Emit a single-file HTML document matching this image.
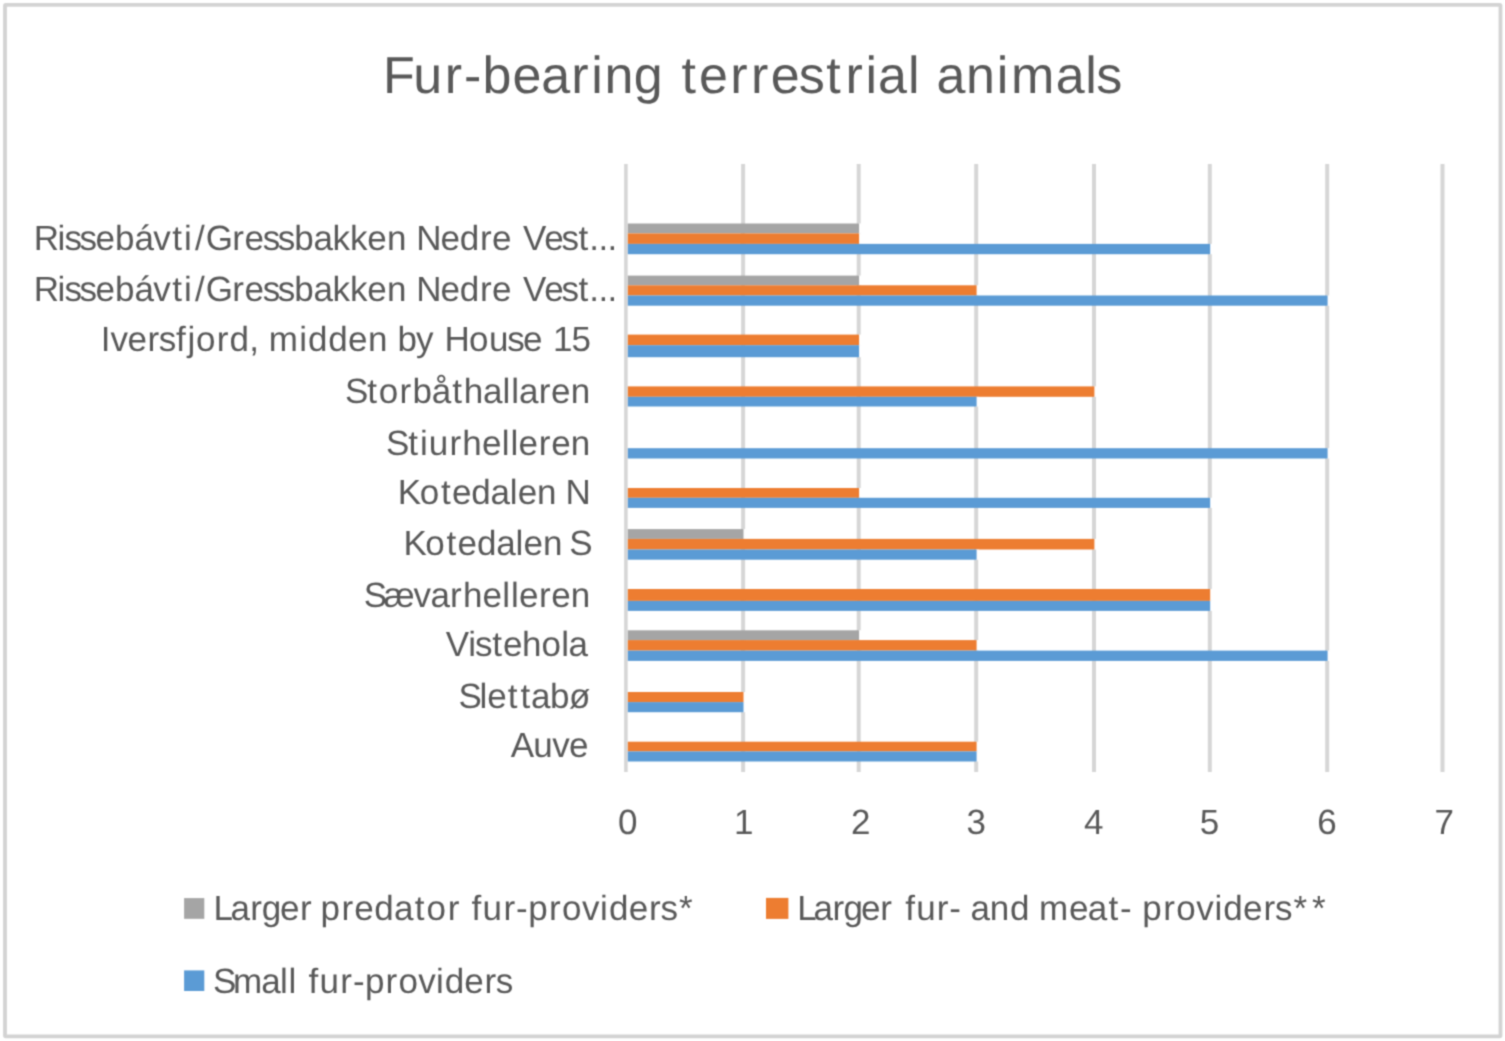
<!DOCTYPE html>
<html lang="en"><head><meta charset="utf-8">
<title>Fur-bearing terrestrial animals</title>
<style>
html,body{margin:0;padding:0;background:#fff;}
body{width:1505px;height:1041px;overflow:hidden;}
svg{display:block;}
text{font-family:"Liberation Sans",sans-serif;fill:#595959;white-space:pre;font-variant-ligatures:none;font-kerning:none;text-rendering:geometricPrecision;}
</style></head><body>
<svg width="1505" height="1041" viewBox="0 0 1505 1041">
<defs><filter id="soft" filterUnits="userSpaceOnUse" x="0" y="0" width="1505" height="1041" color-interpolation-filters="sRGB"><feConvolveMatrix order="3" divisor="1" edgeMode="duplicate" preserveAlpha="false" kernelMatrix="0.0400 0.1200 0.0400 0.1200 0.3600 0.1200 0.0400 0.1200 0.0400"/></filter></defs>
<rect x="0" y="0" width="1505" height="1041" fill="#ffffff"/>
<g filter="url(#soft)">
<rect id="frame" x="5" y="4.8" width="1495.5" height="1031.5" fill="none" stroke="#d3d3d3" stroke-width="3.8" rx="0.8" ry="0.8"/>
<g id="grid" fill="#d6d6d6">
<rect x="624.10" y="164.00" width="3.60" height="608.00"/>
<rect x="741.10" y="164.00" width="4.00" height="608.00"/>
<rect x="856.70" y="164.00" width="4.00" height="608.00"/>
<rect x="974.20" y="164.00" width="4.00" height="608.00"/>
<rect x="1092.00" y="164.00" width="4.00" height="608.00"/>
<rect x="1207.80" y="164.00" width="4.00" height="608.00"/>
<rect x="1325.20" y="164.00" width="4.00" height="608.00"/>
<rect x="1440.50" y="164.00" width="4.00" height="608.00"/>
</g>
<g id="bars">
<rect x="858.10" y="223.50" width="3.20" height="9.90" fill="#ffffff"/>
<rect x="627.80" y="223.50" width="231.30" height="9.90" fill="#a5a5a5"/>
<rect x="858.10" y="233.40" width="3.20" height="10.50" fill="#ffffff"/>
<rect x="627.80" y="233.40" width="231.30" height="10.50" fill="#ed7d31"/>
<rect x="1209.20" y="243.90" width="3.20" height="10.30" fill="#ffffff"/>
<rect x="627.80" y="243.90" width="582.40" height="10.30" fill="#5b9bd5"/>
<rect x="858.10" y="275.60" width="3.20" height="9.70" fill="#ffffff"/>
<rect x="627.80" y="275.60" width="231.30" height="9.70" fill="#a5a5a5"/>
<rect x="975.60" y="285.30" width="3.20" height="10.20" fill="#ffffff"/>
<rect x="627.80" y="285.30" width="348.80" height="10.20" fill="#ed7d31"/>
<rect x="1326.60" y="295.50" width="3.20" height="10.20" fill="#ffffff"/>
<rect x="627.80" y="295.50" width="699.80" height="10.20" fill="#5b9bd5"/>
<rect x="858.10" y="334.60" width="3.20" height="10.60" fill="#ffffff"/>
<rect x="627.80" y="334.60" width="231.30" height="10.60" fill="#ed7d31"/>
<rect x="858.10" y="345.20" width="3.20" height="12.00" fill="#ffffff"/>
<rect x="627.80" y="345.20" width="231.30" height="12.00" fill="#5b9bd5"/>
<rect x="1093.40" y="386.40" width="3.20" height="10.40" fill="#ffffff"/>
<rect x="627.80" y="386.40" width="466.60" height="10.40" fill="#ed7d31"/>
<rect x="975.60" y="396.80" width="3.20" height="9.70" fill="#ffffff"/>
<rect x="627.80" y="396.80" width="348.80" height="9.70" fill="#5b9bd5"/>
<rect x="1326.60" y="448.20" width="3.20" height="10.30" fill="#ffffff"/>
<rect x="627.80" y="448.20" width="699.80" height="10.30" fill="#5b9bd5"/>
<rect x="858.10" y="488.00" width="3.20" height="9.80" fill="#ffffff"/>
<rect x="627.80" y="488.00" width="231.30" height="9.80" fill="#ed7d31"/>
<rect x="1209.20" y="497.80" width="3.20" height="10.10" fill="#ffffff"/>
<rect x="627.80" y="497.80" width="582.40" height="10.10" fill="#5b9bd5"/>
<rect x="742.50" y="529.10" width="3.20" height="9.80" fill="#ffffff"/>
<rect x="627.80" y="529.10" width="115.70" height="9.80" fill="#a5a5a5"/>
<rect x="1093.40" y="538.90" width="3.20" height="10.60" fill="#ffffff"/>
<rect x="627.80" y="538.90" width="466.60" height="10.60" fill="#ed7d31"/>
<rect x="975.60" y="549.50" width="3.20" height="10.20" fill="#ffffff"/>
<rect x="627.80" y="549.50" width="348.80" height="10.20" fill="#5b9bd5"/>
<rect x="1209.20" y="589.00" width="3.20" height="11.90" fill="#ffffff"/>
<rect x="627.80" y="589.00" width="582.40" height="11.90" fill="#ed7d31"/>
<rect x="1209.20" y="600.90" width="3.20" height="10.00" fill="#ffffff"/>
<rect x="627.80" y="600.90" width="582.40" height="10.00" fill="#5b9bd5"/>
<rect x="858.10" y="630.30" width="3.20" height="9.80" fill="#ffffff"/>
<rect x="627.80" y="630.30" width="231.30" height="9.80" fill="#a5a5a5"/>
<rect x="975.60" y="640.10" width="3.20" height="10.50" fill="#ffffff"/>
<rect x="627.80" y="640.10" width="348.80" height="10.50" fill="#ed7d31"/>
<rect x="1326.60" y="650.60" width="3.20" height="10.30" fill="#ffffff"/>
<rect x="627.80" y="650.60" width="699.80" height="10.30" fill="#5b9bd5"/>
<rect x="742.50" y="692.00" width="3.20" height="10.10" fill="#ffffff"/>
<rect x="627.80" y="692.00" width="115.70" height="10.10" fill="#ed7d31"/>
<rect x="742.50" y="702.10" width="3.20" height="10.10" fill="#ffffff"/>
<rect x="627.80" y="702.10" width="115.70" height="10.10" fill="#5b9bd5"/>
<rect x="975.60" y="741.70" width="3.20" height="9.70" fill="#ffffff"/>
<rect x="627.80" y="741.70" width="348.80" height="9.70" fill="#ed7d31"/>
<rect x="975.60" y="751.40" width="3.20" height="10.10" fill="#ffffff"/>
<rect x="627.80" y="751.40" width="348.80" height="10.10" fill="#5b9bd5"/>
</g>
<g id="labels">
<text id="title" class="t" y="93.20" font-size="52"><tspan id="title_0" x="383.0 413.3 444.7 463.9 482.5 512.5 541.2 571.3 591.2 604.6 633.8">Fur-bearing</tspan> <tspan id="title_1" x="681.4 699.1 730.2 751.1 770.7 798.8 826.3 845.4 865.6 878.1 908.0">terrestrial</tspan> <tspan id="title_2" x="936.4 965.9 996.7 1011.1 1055.8 1085.3 1096.3">animals</tspan></text>
<text id="c0" y="249.75" font-size="35"><tspan id="c0_0" x="33.8 57.4 64.4 79.4 95.5 115.1 134.4 153.3 172.3 184.1 194.9 205.7 232.3 244.6 262.7 277.7 294.3 313.5 332.5 349.9 367.2 386.9">Rissebávti/Gressbakken</tspan> <tspan id="c0_1" x="416.3 440.6 459.8 480.1 492.0">Nedre</tspan> <tspan id="c0_2" x="523.0 544.3 561.5 578.6 589.2 598.4 607.6">Vest...</tspan></text>
<text id="c1" y="301.15" font-size="35"><tspan id="c1_0" x="33.8 57.4 64.4 79.4 95.5 115.1 134.4 153.3 172.3 184.1 194.9 205.7 232.3 244.6 262.7 277.7 294.3 313.5 332.5 349.9 367.2 386.9">Rissebávti/Gressbakken</tspan> <tspan id="c1_1" x="416.3 440.6 459.8 480.1 492.0">Nedre</tspan> <tspan id="c1_2" x="523.0 544.3 561.5 578.6 589.2 598.4 607.6">Vest...</tspan></text>
<text id="c2" y="351.05" font-size="35"><tspan id="c2_0" x="100.8 110.4 127.6 147.6 158.8 176.0 187.4 196.1 216.8 229.6 249.2">Iversfjord,</tspan> <tspan id="c2_1" x="268.8 299.3 308.0 328.3 348.1 367.9">midden</tspan> <tspan id="c2_2" x="397.6 416.1">by</tspan> <tspan id="c2_3" x="444.5 469.1 488.9 507.2 523.0">House</tspan> <tspan id="c2_4" x="552.9 571.6">15</tspan></text>
<text id="c3" y="402.55" font-size="35"><tspan id="c3_0" x="345.1 367.2 378.8 399.5 412.4 431.7 452.2 463.8 483.0 502.5 511.3 519.0 538.8 551.1 570.7">Storbåthallaren</tspan></text>
<text id="c4" y="454.55" font-size="35"><tspan id="c4_0" x="386.1 408.2 420.0 428.7 449.4 462.2 481.9 501.7 510.5 518.6 538.8 551.2 570.8">Stiurhelleren</tspan></text>
<text id="c5" y="503.95" font-size="35"><tspan id="c5_0" x="397.8 419.7 440.9 451.9 471.3 490.4 509.7 517.7 537.1">Kotedalen</tspan> <tspan id="c5_1" x="565.6">N</tspan></text>
<text id="c6" y="555.45" font-size="35"><tspan id="c6_0" x="403.4 425.3 446.6 457.6 477.1 496.3 515.6 523.6 543.1">Kotedalen</tspan> <tspan id="c6_1" x="569.2">S</tspan></text>
<text id="c7" y="606.95" font-size="35"><tspan id="c7_0" x="363.7 383.4 413.6 430.4 450.1 462.9 482.4 502.2 510.9 519.0 539.0 551.3 570.8">Sævarhelleren</tspan></text>
<text id="c8" y="656.45" font-size="35"><tspan id="c8_0" x="445.7 468.3 474.9 492.3 502.9 521.9 541.4 561.3 568.6">Vistehola</tspan></text>
<text id="c9" y="707.95" font-size="35"><tspan id="c9_0" x="458.6 479.4 487.2 507.8 520.5 531.0 550.0 568.9">Slettabø</tspan></text>
<text id="c10" y="757.35" font-size="35"><tspan id="c10_0" x="510.7 533.2 552.3 569.0">Auve</tspan></text>
<text id="n0" y="834.20" font-size="35"><tspan id="n0_0" x="618.1">0</tspan></text>
<text id="n1" y="834.20" font-size="35"><tspan id="n1_0" x="733.9">1</tspan></text>
<text id="n2" y="834.20" font-size="35"><tspan id="n2_0" x="851.0">2</tspan></text>
<text id="n3" y="834.20" font-size="35"><tspan id="n3_0" x="966.4">3</tspan></text>
<text id="n4" y="834.20" font-size="35"><tspan id="n4_0" x="1084.1">4</tspan></text>
<text id="n5" y="834.20" font-size="35"><tspan id="n5_0" x="1199.7">5</tspan></text>
<text id="n6" y="834.20" font-size="35"><tspan id="n6_0" x="1317.2">6</tspan></text>
<text id="n7" y="834.20" font-size="35"><tspan id="n7_0" x="1434.5">7</tspan></text>
</g>
<g id="legend">
<rect x="184.1" y="898.1" width="20.2" height="20.7" fill="#a5a5a5"/>
<rect x="766.0" y="897.9" width="22.4" height="21.0" fill="#ed7d31"/>
<rect x="184.1" y="970.4" width="20.2" height="20.6" fill="#5b9bd5"/>
<text id="l0" y="920.35" font-size="35"><tspan id="l0_0" x="213.6 230.6 250.2 261.8 280.1 300.1">Larger</tspan> <tspan id="l0_1" x="320.6 341.6 354.2 374.2 393.9 414.7 426.6 447.7">predator</tspan> <tspan id="l0_2" x="471.4 482.6 503.4 516.1 528.3 549.1 562.1 582.1 600.1 608.9 628.7 649.0 660.4 679.0">fur-providers*</tspan></text>
<text id="l1" y="920.35" font-size="35"><tspan id="l1_0" x="797.3 813.6 832.5 843.4 861.0 880.2">Larger</tspan> <tspan id="l1_1" x="905.3 916.3 936.8 949.3">fur-</tspan> <tspan id="l1_2" x="970.4 989.8 1010.1">and</tspan> <tspan id="l1_3" x="1039.0 1068.9 1087.8 1108.5 1119.9">meat-</tspan> <tspan id="l1_4" x="1142.3 1163.2 1176.3 1196.3 1214.4 1223.2 1243.1 1263.5 1275.0 1293.6 1311.9">providers**</tspan></text>
<text id="l2" y="992.85" font-size="35"><tspan id="l2_0" x="213.0 233.1 261.2 280.0 288.4">Small</tspan> <tspan id="l2_1" x="308.6 319.6 340.3 352.9 364.9 385.5 398.4 418.2 436.1 444.7 464.3 484.5 495.8">fur-providers</tspan></text>
</g>
</g>
</svg>
</body></html>
